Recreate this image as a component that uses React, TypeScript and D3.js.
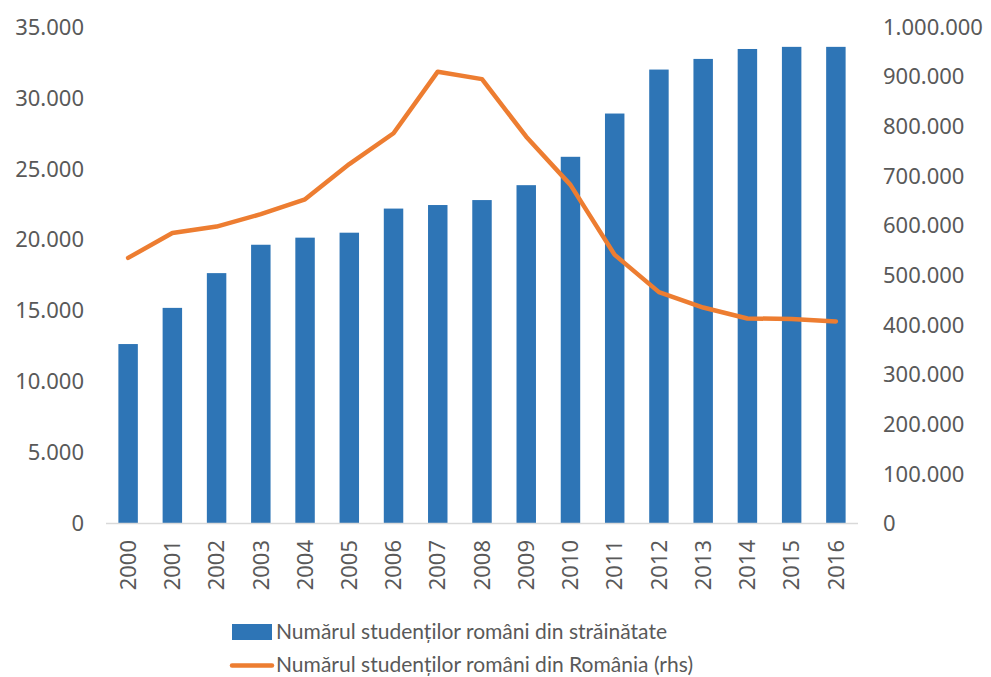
import * as d3 from "d3";

// Ani
const years = ["2000", "2001", "2002", "2003", "2004", "2005", "2006", "2007", "2008",
  "2009", "2010", "2011", "2012", "2013", "2014", "2015", "2016"];
// Studenti romani in strainatate (axa stanga)
const abroad = [12650, 15200, 17650, 19650, 20150, 20500, 22200, 22450, 22800,
  23850, 25850, 28900, 32000, 32750, 33450, 33600, 33600];
// Studenti romani in Romania (axa dreapta, rhs)
const home = [535000, 585000, 598000, 623000, 653000, 724000, 786000, 910000, 895000,
  779000, 682000, 541000, 466000, 435000, 413000, 412000, 407000];
const leftTicks = [0, 5000, 10000, 15000, 20000, 25000, 30000, 35000];
const rightTicks = [0, 100000, 200000, 300000, 400000, 500000, 600000, 700000, 800000, 900000, 1000000];
const legendLabels = [
  "Numărul studenților români din străinătate",
  "Numărul studenților români din România (rhs)",
];

const W = 991;
const H = 677;
const FONT = "'Noto Sans', sans-serif";
const GREY = "#595959";
const BLUE = "#2E75B6";
const ORANGE = "#ED7D31";

const fmt = d3.formatLocale({ decimal: ",", thousands: ".", grouping: [3], currency: ["", ""] }).format(",");

export default function App() {
  const x = d3.scaleBand<string>().domain(years).range([106, 858]).paddingInner(0.56).paddingOuter(0.28);
  const yL = d3.scaleLinear().domain([0, 35000]).range([523.5, 27]);
  const yR = d3.scaleLinear().domain([0, 1000000]).range([523.5, 27]);

  const line = d3
    .line<number>()
    .x((_, i) => (x(years[i]) as number) + x.bandwidth() / 2)
    .y((d) => yR(d));

  return (
    <svg width={W} height={H} style={{ position: "absolute", left: 0, top: 0 }} fontFamily={FONT}>
      <rect width={W} height={H} fill="#fff" />
      {/* bare */}
      {years.map((yr, i) => (
        <rect key={yr} x={x(yr)} y={yL(abroad[i])} width={x.bandwidth()} height={yL(0) - yL(abroad[i])} fill={BLUE} />
      ))}
      {/* axa X */}
      <line x1={106} x2={858} y1={yL(0)} y2={yL(0)} stroke="#D9D9D9" strokeWidth={1.5} />
      {/* linia */}
      <path d={line(home) || ""} fill="none" stroke={ORANGE} strokeWidth={4.5} strokeLinejoin="round" strokeLinecap="round" />
      {/* etichete stanga */}
      {leftTicks.map((t) => (
        <text key={t} x={84} y={yL(t)} dy="0.35em" textAnchor="end" fontSize={22} fill={GREY}>
          {fmt(t)}
        </text>
      ))}
      {/* etichete dreapta */}
      {rightTicks.map((t) => (
        <text key={t} x={883} y={yR(t)} dy="0.35em" textAnchor="start" fontSize={22} fill={GREY}>
          {fmt(t)}
        </text>
      ))}
      {/* ani */}
      {years.map((yr) => {
        const cx = (x(yr) as number) + x.bandwidth() / 2;
        return (
          <text key={yr} transform={`translate(${cx},540) rotate(-90)`} dy="0.35em" textAnchor="end" fontSize={22} fill={GREY}>
            {yr}
          </text>
        );
      })}
      {/* legenda */}
      <rect x={232} y={624} width={40} height={16} fill={BLUE} />
      <text x={276} y={639} fontFamily="Lato, sans-serif" fontSize={22} fill={GREY} textLength={391} lengthAdjust="spacingAndGlyphs">
        {legendLabels[0]}
      </text>
      <line x1={232} x2={272} y1={665.5} y2={665.5} stroke={ORANGE} strokeWidth={4.5} strokeLinecap="round" />
      <text x={276} y={672} fontFamily="Lato, sans-serif" fontSize={22} fill={GREY} textLength={417} lengthAdjust="spacingAndGlyphs">
        {legendLabels[1]}
      </text>
    </svg>
  );
}
